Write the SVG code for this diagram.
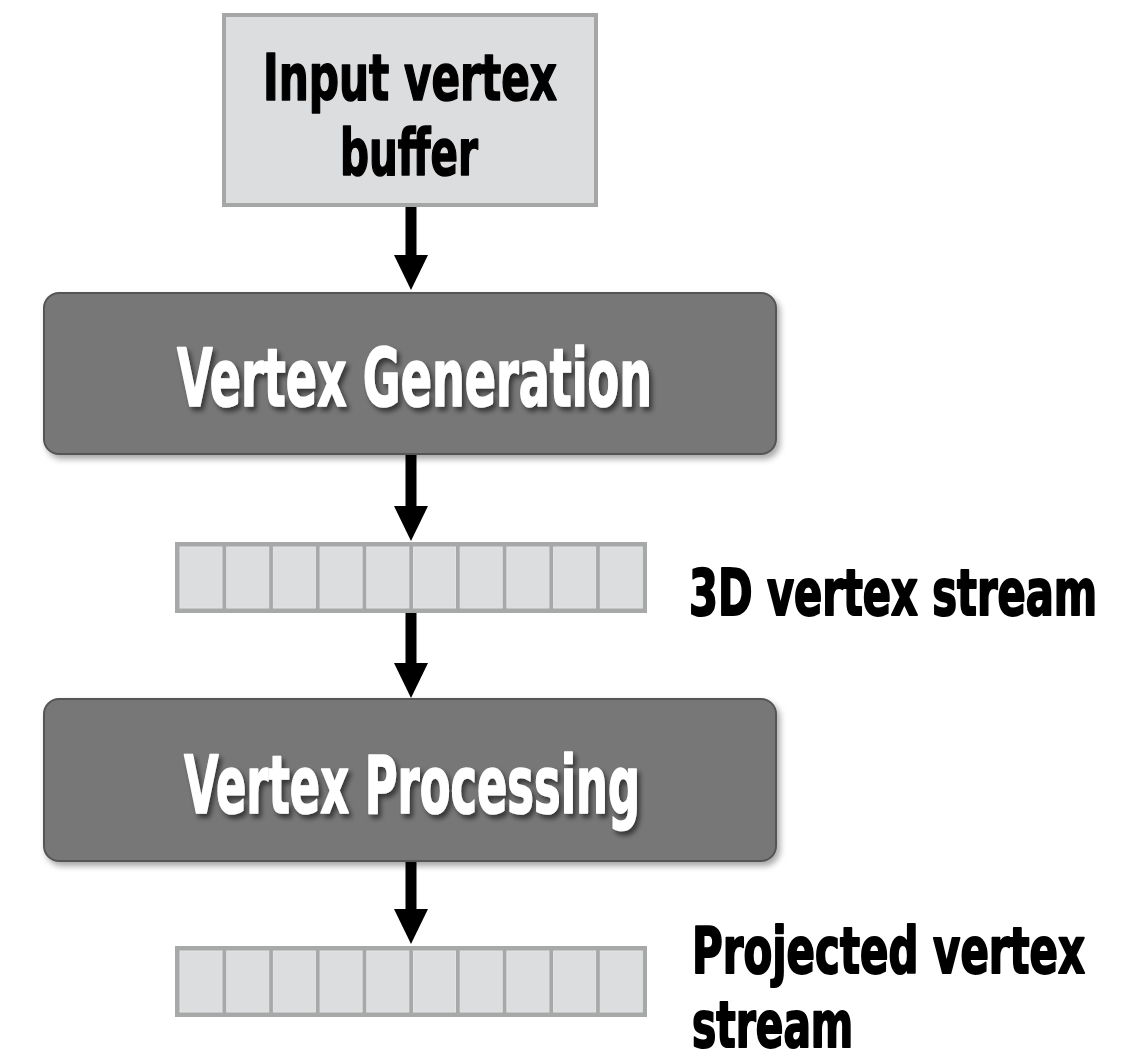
<svg xmlns="http://www.w3.org/2000/svg" width="1146" height="1063" viewBox="0 0 1146 1063">
<defs>
<style>
.lbl{font-family:"Liberation Sans Narrow","DejaVu Sans Condensed","Liberation Sans",sans-serif;font-weight:bold;stroke-linejoin:round;}
.dark{fill:#fff;stroke:#fff;stroke-width:1.6;font-size:81px;}
.blk{fill:#000;stroke:#000;stroke-width:1.6;font-size:64px;}
.side{stroke-width:2;}
.stage{fill:#777777;stroke:#555555;stroke-width:2;}
.buf{fill:#dcdddf;stroke:#a5a7a6;stroke-width:4;}
.strip{fill:#a7a9a8;}
.cell{fill:#dcdddf;stroke:#e2e3e4;stroke-width:1;}
.conn{stroke:#000;stroke-width:11;fill:none;}
</style>
<filter id="boxsh" x="-5%" y="-10%" width="115%" height="130%">
<feDropShadow dx="3" dy="4" stdDeviation="3" flood-color="#000" flood-opacity="0.35"/>
</filter>
<filter id="txtsh" x="-5%" y="-10%" width="115%" height="130%">
<feDropShadow dx="3" dy="4" stdDeviation="2.5" flood-color="#000" flood-opacity="0.55"/>
</filter>
<marker id="ah" viewBox="0 -17 35 34" markerWidth="35" markerHeight="34" refX="0" refY="0" orient="auto" markerUnits="userSpaceOnUse">
<path d="M0,-17 L35,0 L0,17 z" fill="#000"/>
</marker>
<g id="cells">
<rect class="strip" x="175" y="0" width="472" height="71"/>
<rect class="cell" x="180" y="5" width="42" height="61"/>
<rect class="cell" x="226.7" y="5" width="42" height="61"/>
<rect class="cell" x="273.4" y="5" width="42" height="61"/>
<rect class="cell" x="320.1" y="5" width="42" height="61"/>
<rect class="cell" x="366.8" y="5" width="42" height="61"/>
<rect class="cell" x="413.5" y="5" width="42" height="61"/>
<rect class="cell" x="460.2" y="5" width="42" height="61"/>
<rect class="cell" x="506.9" y="5" width="42" height="61"/>
<rect class="cell" x="553.6" y="5" width="42" height="61"/>
<rect class="cell" x="600.3" y="5" width="42" height="61"/>
</g>
</defs>
<rect width="1146" height="1063" fill="#fff"/>

<g id="connectors">
<line class="conn" x1="411" y1="207" x2="411" y2="255" marker-end="url(#ah)"/>
<line class="conn" x1="411" y1="455" x2="411" y2="506" marker-end="url(#ah)"/>
<line class="conn" x1="411" y1="613" x2="411" y2="663" marker-end="url(#ah)"/>
<line class="conn" x1="411" y1="862" x2="411" y2="909" marker-end="url(#ah)"/>
</g>

<g id="input-buffer">
<rect class="buf" x="224" y="15" width="372" height="190"/>
<text class="lbl blk" x="263" y="100" textLength="294" lengthAdjust="spacingAndGlyphs">Input vertex</text>
<text class="lbl blk" x="340" y="175" textLength="138" lengthAdjust="spacingAndGlyphs">buffer</text>
</g>

<g id="vertex-generation">
<rect class="stage" x="44" y="293" width="732" height="161" rx="15" filter="url(#boxsh)"/>
<text class="lbl dark" x="177" y="406" textLength="475" lengthAdjust="spacingAndGlyphs" filter="url(#txtsh)">Vertex Generation</text>
</g>

<g id="stream-3d">
<use href="#cells" y="542"/>
<text class="lbl blk side" transform="translate(689,615) scale(0.72,1)" x="0" y="0" textLength="567" lengthAdjust="spacingAndGlyphs">3D vertex stream</text>
</g>

<g id="vertex-processing">
<rect class="stage" x="44" y="699" width="732" height="162" rx="15" filter="url(#boxsh)"/>
<text class="lbl dark" x="184" y="813" textLength="456" lengthAdjust="spacingAndGlyphs" filter="url(#txtsh)">Vertex Processing</text>
</g>

<g id="stream-projected">
<use href="#cells" y="946"/>
<text class="lbl blk side" transform="translate(692,973) scale(0.72,1)" x="0" y="0" textLength="546" lengthAdjust="spacingAndGlyphs">Projected vertex</text>
<text class="lbl blk side" transform="translate(692,1047) scale(0.72,1)" x="0" y="0" textLength="224" lengthAdjust="spacingAndGlyphs">stream</text>
</g>
</svg>
